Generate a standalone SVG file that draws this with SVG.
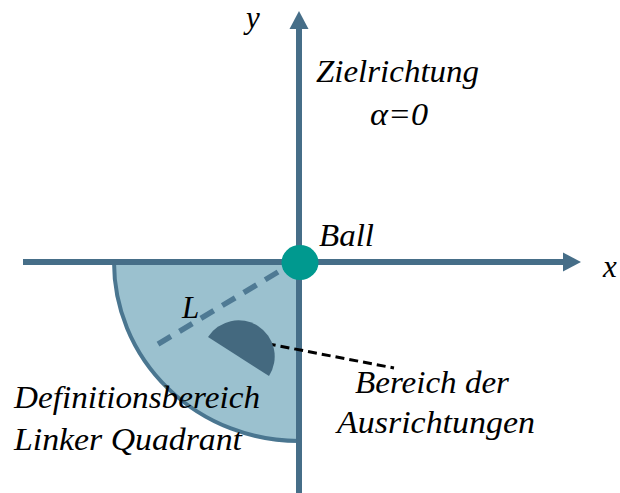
<svg xmlns="http://www.w3.org/2000/svg" width="620" height="493" viewBox="0 0 620 493">
<style>
text{font-family:"Liberation Serif","Times New Roman",serif;font-style:italic;fill:#000;font-size:31px}
.axis{stroke:#466E88;stroke-width:6;fill:none}
.head{fill:#466E88}
</style>
<rect width="620" height="493" fill="#fff"/>
<g id="quadrant">
<path d="M299 262 L114 262 A185 179 0 0 0 299 441 Z" fill="#9BC1CF"/>
<path d="M114 262 A185 179 0 0 0 299 441" fill="none" stroke="#4A7690" stroke-width="4"/>
</g>
<g id="connectors">
<line class="axis" x1="299" y1="493" x2="299" y2="27"/>
<polygon class="head" points="299,11 289.5,29 308.5,29"/>
<line class="axis" x1="23" y1="262" x2="565" y2="262"/>
<polygon class="head" points="581,262 563,252.5 563,271.5"/>
<line x1="278" y1="272" x2="155" y2="346" stroke="#4F7A94" stroke-width="5.5" stroke-dasharray="15,10"/>
<line x1="253" y1="341" x2="394" y2="368" stroke="#000" stroke-width="3" stroke-dasharray="9,5"/>
</g>
<g id="orientation-area">
<path d="M208 337 A36 36 0 0 1 269 376 Z" fill="#44697F"/>
</g>
<g id="ball">
<ellipse cx="300" cy="262.5" rx="18.5" ry="17.5" fill="#00998F"/>
</g>
<g id="labels">
<text x="246" y="28" font-size="28">y</text>
<text x="603" y="277" font-size="30">x</text>
<text x="316" y="82" textLength="163" lengthAdjust="spacingAndGlyphs">Zielrichtung</text>
<text x="370" y="125" textLength="58" lengthAdjust="spacingAndGlyphs">α=0</text>
<text x="319" y="246" textLength="55" lengthAdjust="spacingAndGlyphs">Ball</text>
<text x="182" y="318" font-size="28">L</text>
<text x="14" y="408" textLength="246" lengthAdjust="spacingAndGlyphs">Definitionsbereich</text>
<text x="14" y="450" textLength="228" lengthAdjust="spacingAndGlyphs">Linker Quadrant</text>
<text x="355" y="393" textLength="154" lengthAdjust="spacingAndGlyphs">Bereich der</text>
<text x="337" y="433" textLength="198" lengthAdjust="spacingAndGlyphs">Ausrichtungen</text>
</g>
</svg>
